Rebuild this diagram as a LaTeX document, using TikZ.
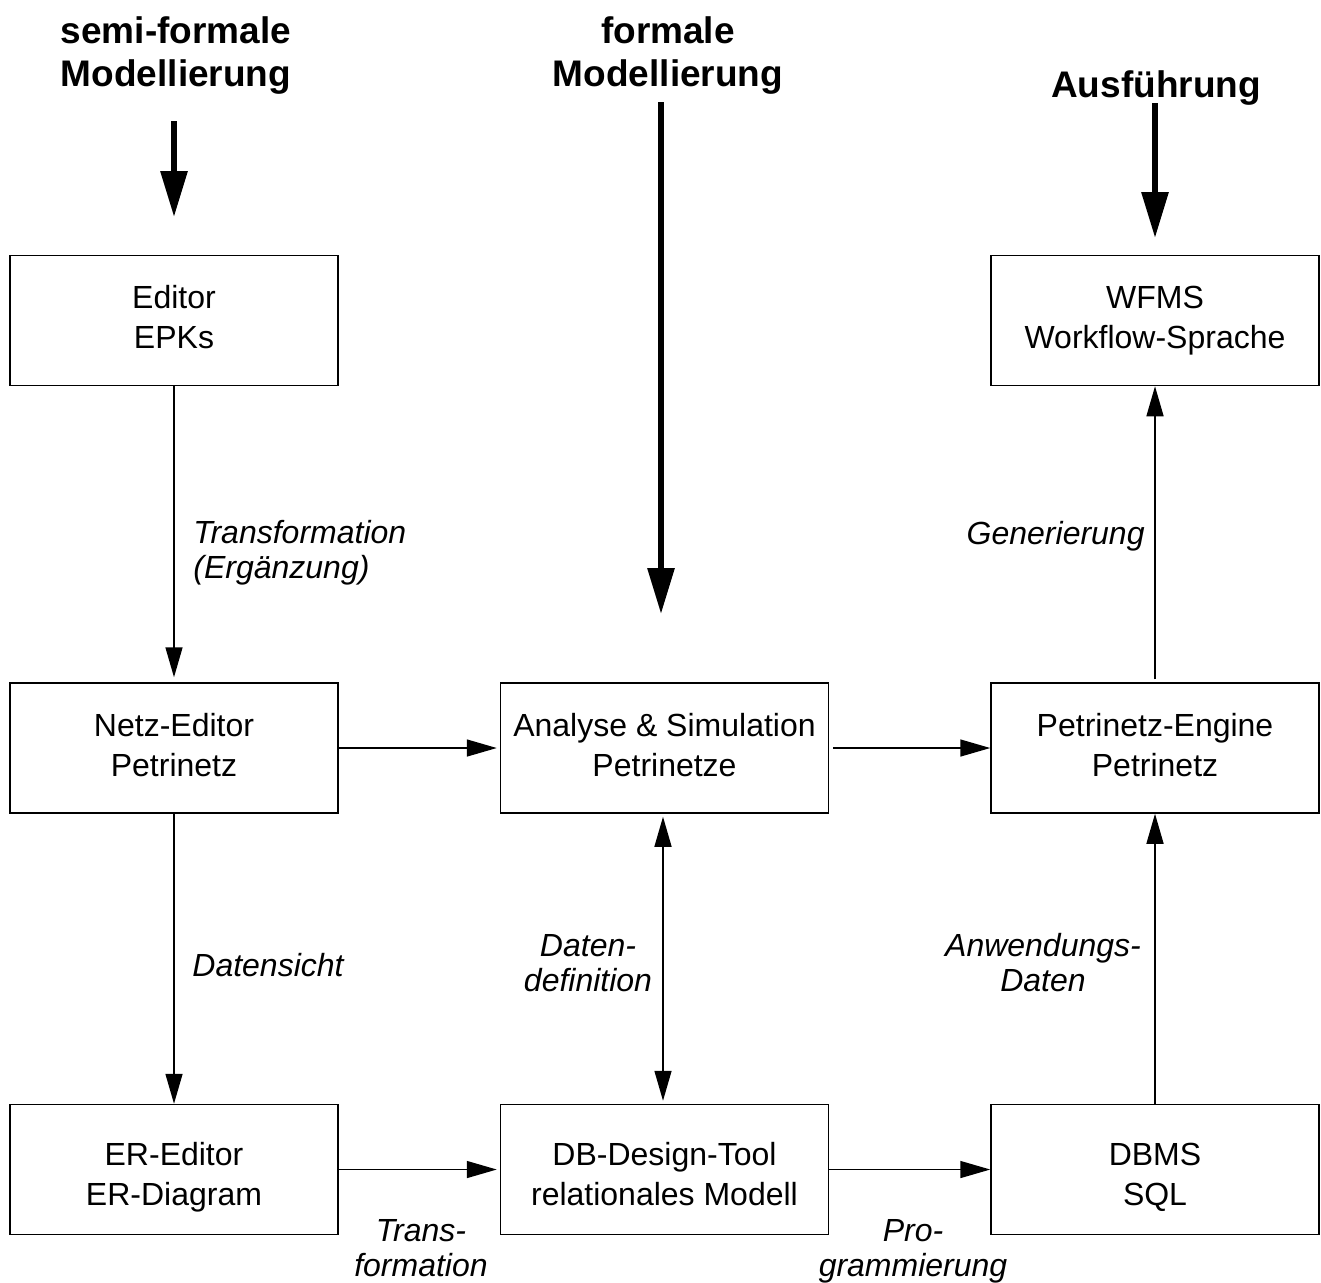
\documentclass[tikz,border=0pt]{standalone}
\usepackage{fontspec}
\setmainfont{Liberation Sans}
\usetikzlibrary{arrows.meta}
\newcommand{\tl}{\strut}
\newcommand{\tlx}{\rule[-6pt]{0pt}{28pt}}
\begin{document}
\begin{tikzpicture}[x=0.5pt,y=-0.5pt,
  box/.style={draw,line width=0.75pt,minimum width=164pt,minimum height=65pt,align=center,
    font=\fontsize{16}{20}\selectfont,inner sep=0pt},
  conn/.style={line width=0.75pt,-{Triangle[length=15pt,width=8.5pt]}},
  biconn/.style={line width=0.75pt,{Triangle[length=15pt,width=8.5pt]}-{Triangle[length=15pt,width=8.5pt]}},
  big/.style={line width=3pt,-{Triangle[length=23pt,width=13pt]}},
  head/.style={align=center,font=\fontsize{18.5}{21.5}\selectfont\bfseries,inner sep=0pt},
  lab/.style={font=\fontsize{16}{17.5}\selectfont\itshape,inner sep=0pt}
]
\useasboundingbox[fill=white] (0,0) rectangle (1321,1282);

% boxes
\node[box] (epk) at (174,320.5) {\tl Editor\\\tl EPKs};
\node[box] (wfms) at (1155,320.5) {\tl WFMS\\\tl Workflow-Sprache};
\node[box] (netz) at (174,748) {\tl Netz-Editor\\\tl Petrinetz};
\node[box] (ana) at (664.5,748) {\tl Analyse \& Simulation\\\tl Petrinetze};
\node[box] (pe) at (1155,748) {\tl Petrinetz-Engine\\\tl Petrinetz};
\node[box] (er) at (174,1169.5) {\tlx ER-Editor\\\tl ER-Diagram};
\node[box] (db) at (664.5,1169.5) {\tlx DB-Design-Tool\\\tl relationales Modell};
\node[box] (dbms) at (1155,1169.5) {\tlx DBMS\\\tl SQL};

% headers
\node[head] (h1) at (176,56) {semi-formale\\Modellierung};
\node[head] (h2) at (668,56) {formale\\Modellierung};
\node[head] (h3) at (1156,88) {Ausführung};
\coordinate (b1s) at (174,121);
\coordinate (b1e) at (174,217);
\coordinate (b2s) at (661,102);
\coordinate (b2e) at (661,614);
\coordinate (b3s) at (1155,103);
\coordinate (b3e) at (1155,238);
\draw[big] (b1s) -- (b1e);
\draw[big] (b2s) -- (b2e);
\draw[big] (b3s) -- (b3e);

% connectors
\draw[conn,shorten >=2.5pt] (epk.south) -- (netz.north);
\draw[conn,shorten >=1.5pt] (netz.east) -- (ana.west);
\draw[conn,shorten <=2pt] (ana.east) -- (pe.west);
\draw[conn] (netz.south) -- (er.north);
\draw[biconn,shorten <=1.5pt,shorten >=1.5pt] ([xshift=-0.75pt]ana.south) -- ([xshift=-0.75pt]db.north);
\draw[conn,shorten >=1.5pt] (er.east) -- (db.west);
\draw[conn] (db.east) -- (dbms.west);
\draw[conn] (dbms.north) -- (pe.south);
\draw[conn,shorten <=1.5pt] (pe.north) -- (wfms.south);

% labels
\node[lab,anchor=west,align=left] (l1) at (193,554) {\tl Transformation\\\tl (Ergänzung)};
\node[lab,anchor=east] (l2) at (1145,536) {Generierung};
\node[lab,anchor=west] (l3) at (192,965) {Datensicht};
\node[lab,align=center] (l4) at (588,967) {\tl Daten-\\\tl definition};
\node[lab,align=center] (l5) at (1043,967) {\tl Anwendungs-\\\tl Daten};
\node[lab,align=center] (l6) at (421,1252) {\tl Trans-\\\tl formation};
\node[lab,align=center] (l7) at (913,1252) {\tl Pro-\\\tl grammierung};
\end{tikzpicture}
\end{document}
